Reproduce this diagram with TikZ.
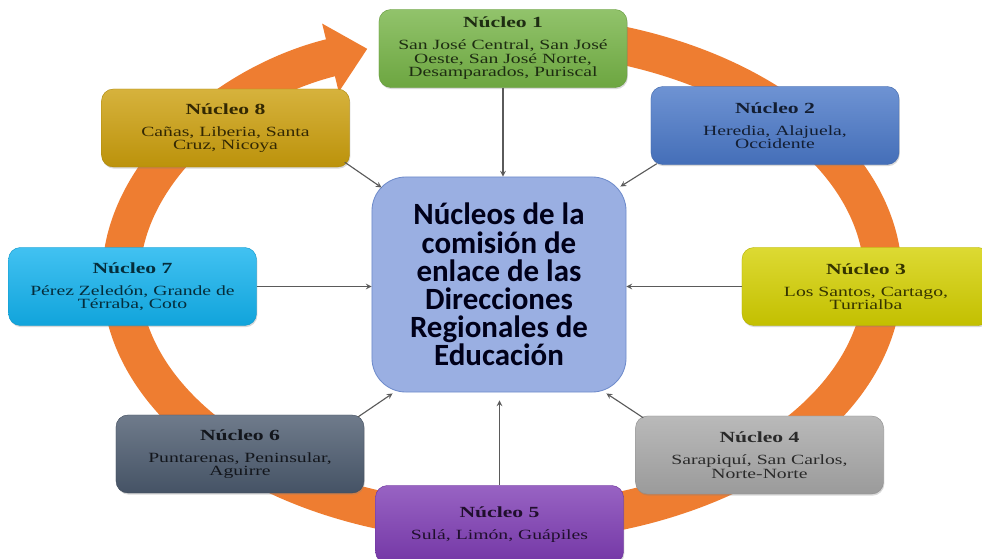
\documentclass[tikz,border=0pt]{standalone}
\usepackage{fontspec}
\setmainfont{Liberation Serif}[FakeStretch=1.4]
\newfontfamily\midfont{Carlito}
\usetikzlibrary{
    arrows,
    arrows.meta,
    shadows
}
\definecolor{ring}{HTML}{EE7D31}
\definecolor{cA}{HTML}{76B446}
\definecolor{cB}{HTML}{4A78C8}
\definecolor{cC}{HTML}{D4D000}
\definecolor{cD}{HTML}{A8A8A8}
\definecolor{cE}{HTML}{7E3CB4}
\definecolor{cF}{HTML}{4B5A6E}
\definecolor{cG}{HTML}{12B2EE}
\definecolor{cH}{HTML}{CC9F0C}
\definecolor{midfill}{HTML}{9AAFE2}
\definecolor{midline}{HTML}{6E8BCB}
\definecolor{linkgray}{HTML}{5A5A5A}
\tikzset{
    nbox/.style={rectangle, rounded corners=0.3cm, minimum width=6.2cm, minimum height=1.95cm,
        top color=#1!80!white, bottom color=#1!92!black, draw=#1!85!black, line width=0.3pt,
        text=#1!25!black, align=center, font=\fontsize{10}{9.6}\selectfont,
        drop shadow={opacity=0.3, shadow xshift=0.6pt, shadow yshift=-1.2pt}},
    midbox/.style={rectangle, rounded corners=0.85cm, minimum width=6.35cm, minimum height=5.375cm,
        fill=midfill, draw=midline, line width=0.6pt, align=center, text=black!90!blue,
        font=\midfont\bfseries\fontsize{22}{20}\selectfont},
    link/.style={->, >=stealth, draw=linkgray, line width=0.8pt}
}
\newcommand{\nuc}[2]{{\fontsize{11}{12}\selectfont\bfseries Núcleo #1}\\[6pt]#2}

\begin{document}
\begin{tikzpicture}[x=0.025cm, y=0.025cm]
    \useasboundingbox (0,0) rectangle (982,559);

    \draw[ring, line width=0.95cm, -{Triangle[length=0.95cm, width=1.7cm]}]
        (568.2,522.3) arc[start angle=80, end angle=-249.3, x radius=381, y radius=245];

    \node[nbox=cA] (n1) at (503,510.5) {\nuc{1}{San José Central, San José\\Oeste, San José Norte,\\Desamparados, Puriscal}};
    \node[nbox=cB] (n2) at (775,433.5) {\nuc{2}{Heredia, Alajuela,\\Occidente}};
    \node[nbox=cC] (n3) at (866,272.5) {\nuc{3}{Los Santos, Cartago,\\Turrialba}};
    \node[nbox=cD] (n4) at (759.5,104) {\nuc{4}{Sarapiquí, San Carlos,\\Norte-Norte}};
    \node[nbox=cE] (n5) at (499.5,34.5) {\nuc{5}{Sulá, Limón, Guápiles}};
    \node[nbox=cF] (n6) at (240,105) {\nuc{6}{Puntarenas, Peninsular,\\Aguirre}};
    \node[nbox=cG] (n7) at (132.5,272.5) {\nuc{7}{Pérez Zeledón, Grande de\\Térraba, Coto}};
    \node[nbox=cH] (n8) at (225.5,431) {\nuc{8}{Cañas, Liberia, Santa\\Cruz, Nicoya}};

    \node[midbox] (mid) at (499,274.5) {Núcleos de la\\comisión de\\enlace de las\\Direcciones\\Regionales de\\Educación};

    \draw[link] (n1) -- (n1 |- mid.north);
    \draw[link] ([shift={(6,1)}]n2.south west) -- ([shift={(-6,-10)}]mid.north east);
    \draw[link] (n3) -- (n3 -| mid.east);
    \draw[link] ([shift={(8,-2)}]n4.north west) -- ([shift={(-20,-1)}]mid.south east);
    \draw[link, shorten >=0.2cm] (n5) -- (n5 |- mid.south);
    \draw[link] ([shift={(-6,-2)}]n6.north east) -- ([shift={(21,-1)}]mid.south west);
    \draw[link] (n7) -- (n7 -| mid.west);
    \draw[link] ([shift={(-5,5)}]n8.south east) -- ([shift={(10,-11)}]mid.north west);
\end{tikzpicture}
\end{document}
